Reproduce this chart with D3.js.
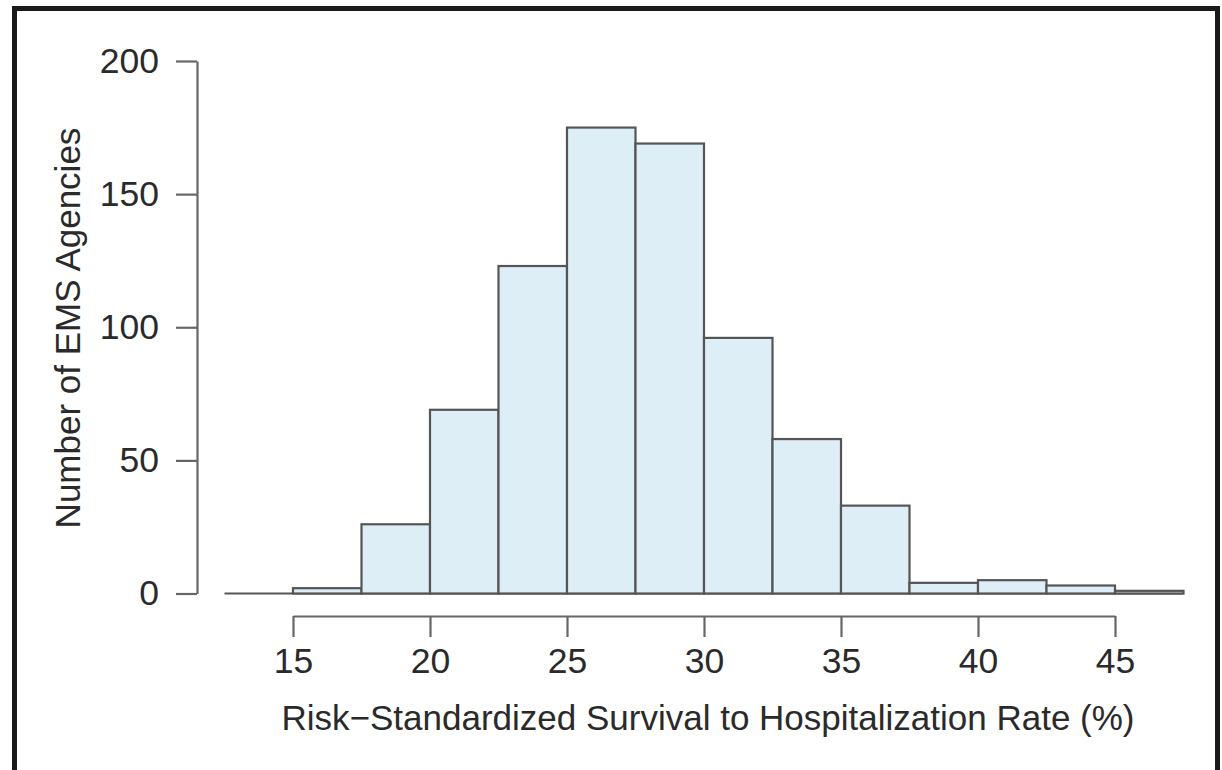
<!DOCTYPE html>
<html lang="en">

<head>
    <meta charset="UTF-8">
    <title>EMS Agencies Histogram</title>
    <script src="https://d3js.org/d3.v7.min.js"></script>

    <style>
        body {
            margin: 0;
            background: #fff;
            font-family: 'Liberation Sans', Arial, sans-serif;
        }

        svg {
            display: block;
        }

        .bar {
            fill: #deeef6;
            stroke: #555;
            stroke-width: 2.2;
        }

        .axis path,
        .axis line {
            stroke: #666;
            stroke-width: 2.2;
        }

        .axis text {
            font-size: 35.5px;
            fill: #2a2a2a;
            font-family: 'Liberation Sans', Arial, sans-serif;
        }

        .title {
            font-size: 35px;
            fill: #2a2a2a;
        }
    </style>

</head>

<body>
    <svg></svg>
    <script>
        const width = 1222;
        const height = 770;

        // histogram bins (left edge of each 2.5-wide bin) and counts
        const binStarts = [12.5, 15, 17.5, 20, 22.5, 25, 27.5, 30, 32.5, 35, 37.5, 40, 42.5, 45];
        const counts = [0, 2, 26, 69, 123, 175, 169, 96, 58, 33, 4, 5, 3, 1];
        const binWidth = 2.5;

        const xTicks = [15, 20, 25, 30, 35, 40, 45];
        const yTicks = [0, 50, 100, 150, 200];

        const xLabel = "Risk\u2212Standardized Survival to Hospitalization Rate (%)";
        const yLabel = "Number of EMS Agencies";

        let svg = d3.select("svg").attr("width", width).attr("height", height);

        // outer frame
        svg.append("rect")
            .attr("x", 14.5)
            .attr("y", 8.5)
            .attr("width", 1203)
            .attr("height", 800)
            .attr("fill", "none")
            .attr("stroke", "#1a1a1a")
            .attr("stroke-width", 5);

        const x = d3.scaleLinear().domain([15, 45]).range([293, 1115]);
        const y = d3.scaleLinear().domain([0, 200]).range([593.5, 61]);

        let data = binStarts.map((b, i) => ({ x0: b, x1: b + binWidth, n: counts[i] }));

        // baseline under the bars (R draws zero-height bins as flat lines)
        svg.append("line")
            .attr("x1", x(binStarts[0]))
            .attr("x2", x(binStarts[binStarts.length - 1] + binWidth))
            .attr("y1", y(0))
            .attr("y2", y(0))
            .attr("stroke", "#555")
            .attr("stroke-width", 2.2);

        svg.selectAll(".bar")
            .data(data.filter(d => d.n > 0))
            .enter()
            .append("rect")
            .attr("class", "bar")
            .attr("x", d => x(d.x0))
            .attr("y", d => y(d.n))
            .attr("width", d => x(d.x1) - x(d.x0))
            .attr("height", d => y(0) - y(d.n));

        // x axis, offset below the plot like R's default
        let gx = svg.append("g")
            .attr("class", "axis")
            .attr("transform", "translate(0,616)")
            .call(d3.axisBottom(x).tickValues(xTicks).tickSize(21).tickPadding(11).tickSizeOuter(0));
        gx.selectAll("text").attr("dy", "0.71em");

        // y axis
        let gy = svg.append("g")
            .attr("class", "axis")
            .attr("transform", "translate(197,0)")
            .call(d3.axisLeft(y).tickValues(yTicks).tickSize(21).tickPadding(17).tickSizeOuter(0));

        svg.append("text")
            .attr("class", "title")
            .attr("x", 708)
            .attr("y", 730)
            .attr("text-anchor", "middle")
            .text(xLabel);

        svg.append("text")
            .attr("class", "title")
            .attr("transform", "translate(80,328) rotate(-90)")
            .attr("text-anchor", "middle")
            .text(yLabel);
    </script>
</body>

</html>
